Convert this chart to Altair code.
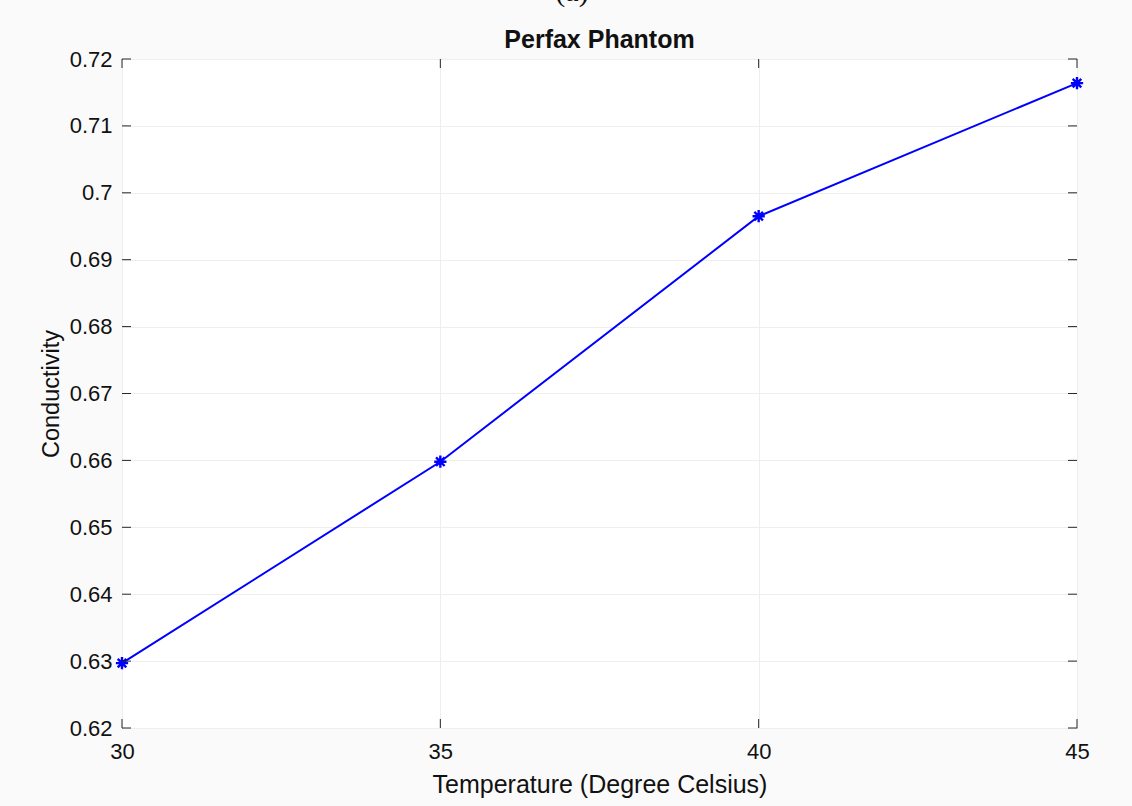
import altair as alt
import pandas as pd

temperature = [30, 35, 40, 45]
conductivity = [0.6297, 0.6598, 0.6965, 0.7164]
x_ticks = [30, 35, 40, 45]
y_ticks = [0.62, 0.63, 0.64, 0.65, 0.66, 0.67, 0.68, 0.69, 0.70, 0.71, 0.72]
chart_title = "Perfax Phantom"
panel_label = "(a)"

W, H = 955, 669
FONT = "Liberation Sans"

df = pd.DataFrame({"t": temperature, "c": conductivity})
xt = pd.DataFrame({"v": x_ticks})
yt = pd.DataFrame({"v": y_ticks})

xscale = alt.Scale(domain=[30, 45], nice=False, zero=False)
yscale = alt.Scale(domain=[0.62, 0.72], nice=False, zero=False)

xaxis = alt.Axis(values=x_ticks, title="Temperature (Degree Celsius)", format="d",
                 grid=True, gridColor="#eeeeee", gridWidth=1, ticks=False, domain=False,
                 labelFlush=False,
                 labelFont=FONT, labelFontSize=22, labelColor="#111", labelPadding=13,
                 titleFont=FONT, titleFontSize=25, titleFontWeight="normal", titleColor="#111",
                 titlePadding=10)
yaxis = alt.Axis(values=y_ticks, title="Conductivity", labelExpr="format(datum.value, '.2~f')",
                 grid=True, gridColor="#eeeeee", gridWidth=1, ticks=False, domain=False,
                 labelFlush=False,
                 labelFont=FONT, labelFontSize=22, labelColor="#111", labelPadding=10,
                 titleFont=FONT, titleFontSize=23.5, titleFontWeight="normal", titleColor="#111",
                 titlePadding=6)

line = alt.Chart(df).mark_line(color="#0000ff", strokeWidth=2).encode(
    x=alt.X("t:Q", scale=xscale, axis=xaxis),
    y=alt.Y("c:Q", scale=yscale, axis=yaxis),
)

star = "M0,-1L0,1M-1,0L1,0M-0.7,-0.7L0.7,0.7M-0.7,0.7L0.7,-0.7"
pts = alt.Chart(df).mark_point(shape=star, filled=False, color="#0000ff",
                               strokeWidth=2.4, size=150, opacity=1).encode(
    x=alt.X("t:Q", scale=xscale), y=alt.Y("c:Q", scale=yscale))

tc = "#262626"
tb = alt.Chart(xt).mark_rule(color=tc, strokeWidth=1).encode(
    x=alt.X("v:Q", scale=xscale), y=alt.value(H), y2=alt.value(H - 9))
tt = alt.Chart(xt).mark_rule(color=tc, strokeWidth=1).encode(
    x=alt.X("v:Q", scale=xscale), y=alt.value(0), y2=alt.value(9))
tl = alt.Chart(yt).mark_rule(color=tc, strokeWidth=1).encode(
    y=alt.Y("v:Q", scale=yscale), x=alt.value(0), x2=alt.value(9))
tr = alt.Chart(yt).mark_rule(color=tc, strokeWidth=1).encode(
    y=alt.Y("v:Q", scale=yscale), x=alt.value(W), x2=alt.value(W - 9))

title_txt = alt.Chart(pd.DataFrame({"s": [chart_title]})).mark_text(
    font=FONT, fontSize=25, fontWeight="bold", color="#111", baseline="alphabetic", align="center"
).encode(text="s:N", x=alt.value(W / 2), y=alt.value(-11))

label_a = alt.Chart(pd.DataFrame({"s": [panel_label]})).mark_text(
    font="Liberation Serif", fontSize=30, color="#111", baseline="alphabetic", align="center"
).encode(text="s:N", x=alt.value(450), y=alt.value(-58))

chart = alt.layer(line, pts, tb, tt, tl, tr, title_txt, label_a).properties(
    width=W, height=H,
    padding={"left": 122, "top": 59, "right": 55, "bottom": 78},
    autosize=alt.AutoSizeParams(type="none"),
    background="#fafafa",
).configure_view(fill="white", stroke=tc, strokeWidth=1)

chart.save("out.html", embed_options={"renderer": "svg", "actions": False})
